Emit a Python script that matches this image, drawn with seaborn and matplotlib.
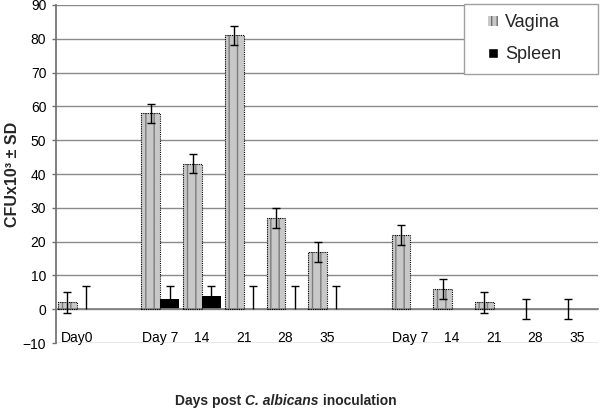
import numpy as np
import pandas as pd
import seaborn as sns
from matplotlib import pyplot as plt
from matplotlib.patches import Patch, Rectangle
from matplotlib.legend_handler import HandlerPatch

# category keys (two blank spacer slots) and the labels shown under them
categories = ["d0", "gap_a", "a7", "a14", "a21", "a28", "a35",
              "gap_b", "b7", "b14", "b21", "b28", "b35"]
tick_labels = ["Day0", "", "Day 7", "14", "21", "28", "35",
               "", "Day 7", "14", "21", "28", "35"]

vagina_cats = ["d0", "a7", "a14", "a21", "a28", "a35", "b7", "b14", "b21", "b28", "b35"]
vagina_cfu = [2, 58, 43, 81, 27, 17, 22, 6, 2, 0, 0]
vagina_sd = [3, 2.8, 2.8, 2.8, 3, 3, 3, 3, 3, 3, 3]

spleen_cats = ["d0", "a7", "a14", "a21", "a28", "a35"]
spleen_cfu = [0, 3, 4, 0, 0, 0]
spleen_sd = [7, 4, 3, 7, 7, 7]

sns.set_theme(style="white")
plt.rcParams['font.family'] = ['Liberation Sans', 'DejaVu Sans']

df = pd.concat([
    pd.DataFrame({"cat": vagina_cats, "cfu": vagina_cfu, "site": "Vagina"}),
    pd.DataFrame({"cat": spleen_cats, "cfu": spleen_cfu, "site": "Spleen"}),
])

fig = plt.figure(figsize=(6, 4.11), dpi=100)
ax = fig.add_axes([56 / 600, 1 - 343 / 411, 542 / 600, 338 / 411])

width = 0.9
sns.barplot(data=df, x="cat", y="cfu", hue="site", order=categories,
            hue_order=["Vagina", "Spleen"], palette=["#c8c8c8", "black"],
            width=width, errorbar=None, linewidth=0, legend=False, ax=ax)

# striped look + dotted outline for the vagina bars
for bar in ax.containers[0]:
    bar.set_hatch("||")
    bar.set_edgecolor("#7c7c7c")
    bar.set_linewidth(0)
    if bar.get_height() > 0:
        ax.add_patch(Rectangle((bar.get_x(), bar.get_y()), bar.get_width(), bar.get_height(),
                               fill=False, edgecolor="black", linestyle=(0, (1, 1)),
                               linewidth=0.8, zorder=3))

off = width / 4
vx = [categories.index(c) - off for c in vagina_cats]
ax.errorbar(vx, vagina_cfu, yerr=vagina_sd, fmt="none", ecolor="black",
            elinewidth=1, capsize=3, capthick=1, zorder=4)

sx = np.array([categories.index(c) + off for c in spleen_cats])
s_top = np.array(spleen_cfu) + np.array(spleen_sd)
ax.vlines(sx, spleen_cfu, s_top, color="black", lw=1, zorder=4)
ax.plot(sx, s_top, ls="none", marker="_", ms=6, mew=1, color="black", zorder=4)

ax.set_ylim(-10, 90)
ax.set_yticks(range(-10, 91, 10))
ax.set_xlim(-0.5, len(categories) - 0.5)
ax.set_xticks(range(len(categories)), tick_labels)
ax.set_xticks(np.arange(0.5, len(categories) - 1, 1), minor=True)
ax.tick_params(axis="x", which="major", length=0, pad=16, labelsize=10, colors="black")
ax.tick_params(axis="x", which="minor", length=3, width=1, color="#999999", direction="out")
ax.tick_params(axis="y", length=3, width=1, color="#707070", labelsize=10, labelcolor="black",
               left=True, pad=4)
ax.yaxis.grid(True, color="#8a8a8a", lw=1)
ax.set_axisbelow(True)
ax.spines["bottom"].set_position(("data", 0))
ax.spines["bottom"].set_color("#808080")
ax.spines["left"].set_color("#707070")
ax.spines["top"].set_visible(False)
ax.spines["right"].set_visible(False)
ax.set_xlabel("")
ax.set_ylabel("CFUx10³ ± SD", fontsize=11.5, fontweight="bold", labelpad=2)


def square_right(legend, orig_handle, xdescent, ydescent, width, height, fontsize):
    side = 0.55 * fontsize
    return Rectangle((width - side - xdescent, (height - side) / 2 - ydescent), side, side)


handles = [Patch(facecolor="#c8c8c8", edgecolor="#707070", hatch="|||", lw=0, label="Vagina"),
           Patch(facecolor="black", label="Spleen")]
leg = ax.legend(handles=handles, loc="upper left", bbox_to_anchor=(0.752, 0, 0.248, 1.004),
                mode="expand", borderaxespad=0, fontsize=13, frameon=True, fancybox=False,
                edgecolor="#a0a0a0", framealpha=1, borderpad=0.6, handlelength=1.3,
                handletextpad=0.4, labelspacing=0.8,
                handler_map={Patch: HandlerPatch(patch_func=square_right)})
leg.get_frame().set_linewidth(1)

t1 = fig.text(0.292, 0.008, "Days post ", fontsize=10, fontweight="bold", va="bottom")
t2 = ax.annotate("C. albicans", xy=(1, 0), xycoords=t1, va="bottom", fontsize=10,
                 fontweight="bold", style="italic", annotation_clip=False)
ax.annotate(" inoculation", xy=(1, 0), xycoords=t2, va="bottom", fontsize=10,
            fontweight="bold", annotation_clip=False)

fig.savefig("out.png", dpi=100)
